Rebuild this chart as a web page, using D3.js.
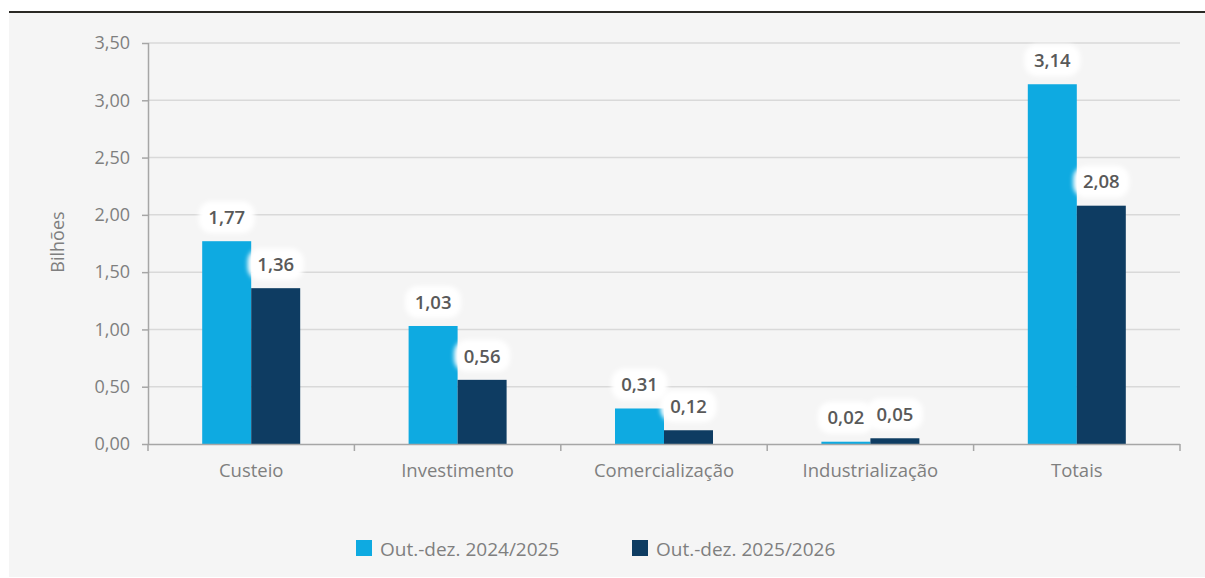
<!DOCTYPE html>
<html>
<head>
<meta charset="utf-8">
<script src="https://cdn.jsdelivr.net/npm/d3@7"></script>
<style>
  html, body { margin: 0; padding: 0; background: #fff; }
  svg { display: block; font-family: "Open Sans", sans-serif; }
</style>
</head>
<body>
<div id="chart"></div>
<script>
var categories = ["Custeio", "Investimento", "Comercialização", "Industrialização", "Totais"];
var series = ["Out.-dez. 2024/2025", "Out.-dez. 2025/2026"];
var values2425 = [1.77, 1.03, 0.31, 0.02, 3.14];
var values2526 = [1.36, 0.56, 0.12, 0.05, 2.08];
var yTicks = [0, 0.5, 1, 1.5, 2, 2.5, 3, 3.5];
var colors = ["#0eaae1", "#0e3c62"];

var W = 1205, H = 578;
var margin = {top: 43, right: 25, bottom: 134, left: 148},
    width = 1180 - margin.left,
    height = 444 - margin.top;

var fmt = function(v) { return d3.format(".2f")(v).replace(".", ","); };

var svg = d3.select("#chart").append("svg")
    .attr("width", W)
    .attr("height", H);

var defs = svg.append("defs");
defs.append("filter")
    .attr("id", "soft")
    .attr("x", "-30%").attr("y", "-40%")
    .attr("width", "160%").attr("height", "180%")
  .append("feGaussianBlur")
    .attr("stdDeviation", 2);

// panel background + top rule
svg.append("rect")
    .attr("x", 9).attr("y", 12)
    .attr("width", W - 9).attr("height", 577 - 12)
    .attr("fill", "#f5f5f5");
svg.append("line")
    .attr("x1", 9).attr("x2", W)
    .attr("y1", 12).attr("y2", 12)
    .attr("stroke", "#2a2925")
    .attr("stroke-width", 2);

var g = svg.append("g")
    .attr("transform", "translate(" + margin.left + "," + margin.top + ")");

var x0 = d3.scaleBand().domain(categories).range([0, width]).paddingInner(0).paddingOuter(0);
var x1 = d3.scaleBand().domain(series).range([0, 98]);
var y = d3.scaleLinear().domain([0, 3.5]).range([height, 0]);

// gridlines
g.append("g").selectAll("line")
    .data(yTicks.slice(1))
    .enter().append("line")
    .attr("x1", 0).attr("x2", width)
    .attr("y1", function(d) { return y(d); })
    .attr("y2", function(d) { return y(d); })
    .attr("stroke", "#d9d9d9")
    .attr("stroke-width", 1.5);

// y axis
var yAxis = d3.axisLeft(y).tickValues(yTicks).tickFormat(fmt).tickSize(6).tickPadding(12);
var ya = g.append("g").call(yAxis);
ya.select(".domain").attr("stroke", "#a6a6a6").attr("stroke-width", 1.5).attr("d", "M0.5," + height + "V0");
ya.selectAll(".tick line").attr("stroke", "#a6a6a6").attr("stroke-width", 1.5);
ya.selectAll(".tick text").attr("fill", "#7f7f7f").style("font-size", "18px").style("font-family", "'Open Sans', sans-serif");

// bars
var rows = categories.map(function(c, i) { return {cat: c, vals: [values2425[i], values2526[i]]}; });
var groups = g.append("g").selectAll("g")
    .data(rows)
    .enter().append("g")
    .attr("transform", function(d) { return "translate(" + (x0(d.cat) + x0.bandwidth() / 2 - 49) + ",0)"; });

groups.selectAll("rect")
    .data(function(d) { return d.vals.map(function(v, k) { return {s: series[k], v: v, k: k}; }); })
    .enter().append("rect")
    .attr("x", function(d) { return x1(d.s); })
    .attr("y", function(d) { return y(d.v); })
    .attr("width", x1.bandwidth())
    .attr("height", function(d) { return height - y(d.v); })
    .attr("fill", function(d) { return colors[d.k]; });

// x axis
var xa = g.append("g").attr("transform", "translate(0," + height + ")");
xa.append("line").attr("x1", 0).attr("x2", width).attr("y1", 0.5).attr("y2", 0.5)
    .attr("stroke", "#a6a6a6").attr("stroke-width", 1.5);
xa.selectAll(".tk")
    .data(d3.range(categories.length + 1))
    .enter().append("line")
    .attr("x1", function(i) { return i * x0.step(); })
    .attr("x2", function(i) { return i * x0.step(); })
    .attr("y1", 0).attr("y2", 7)
    .attr("stroke", "#a6a6a6").attr("stroke-width", 1.5);
xa.selectAll(".cl")
    .data(categories)
    .enter().append("text")
    .attr("x", function(d) { return x0(d) + x0.bandwidth() / 2; })
    .attr("y", 33)
    .attr("text-anchor", "middle")
    .attr("fill", "#7f7f7f")
    .style("font-size", "18.5px")
    .text(function(d) { return d; });

// value labels with soft white backgrounds
var labels = groups.selectAll(".lab")
    .data(function(d) { return d.vals.map(function(v, k) { return {s: series[k], v: v, k: k}; }); })
    .enter().append("g")
    .attr("transform", function(d) { return "translate(" + (x1(d.s) + x1.bandwidth() / 2) + "," + (y(d.v) - 24) + ")"; });
labels.append("rect")
    .attr("x", -28).attr("y", -16)
    .attr("width", 56).attr("height", 32)
    .attr("rx", 13)
    .attr("fill", "#ffffff")
    .attr("filter", "url(#soft)");
labels.append("text")
    .attr("text-anchor", "middle")
    .attr("dy", "0.36em")
    .attr("fill", "#595959")
    .style("font-size", "18.5px")
    .style("font-weight", "600")
    .text(function(d) { return fmt(d.v); });

// y axis title
svg.append("text")
    .attr("transform", "translate(64,242) rotate(-90)")
    .attr("text-anchor", "middle")
    .attr("fill", "#7f7f7f")
    .style("font-size", "18px")
    .text("Bilhões");

// legend
var legendX = [356, 632];
var leg = svg.append("g").selectAll("g")
    .data(series)
    .enter().append("g")
    .attr("transform", function(d, i) { return "translate(" + legendX[i] + ",540)"; });
leg.append("rect")
    .attr("width", 16).attr("height", 16)
    .attr("fill", function(d, i) { return colors[i]; });
leg.append("text")
    .attr("x", 24).attr("y", 16)
    .attr("fill", "#7f7f7f")
    .style("font-size", "19px")
    .text(function(d) { return d; });
</script>
</body>
</html>
